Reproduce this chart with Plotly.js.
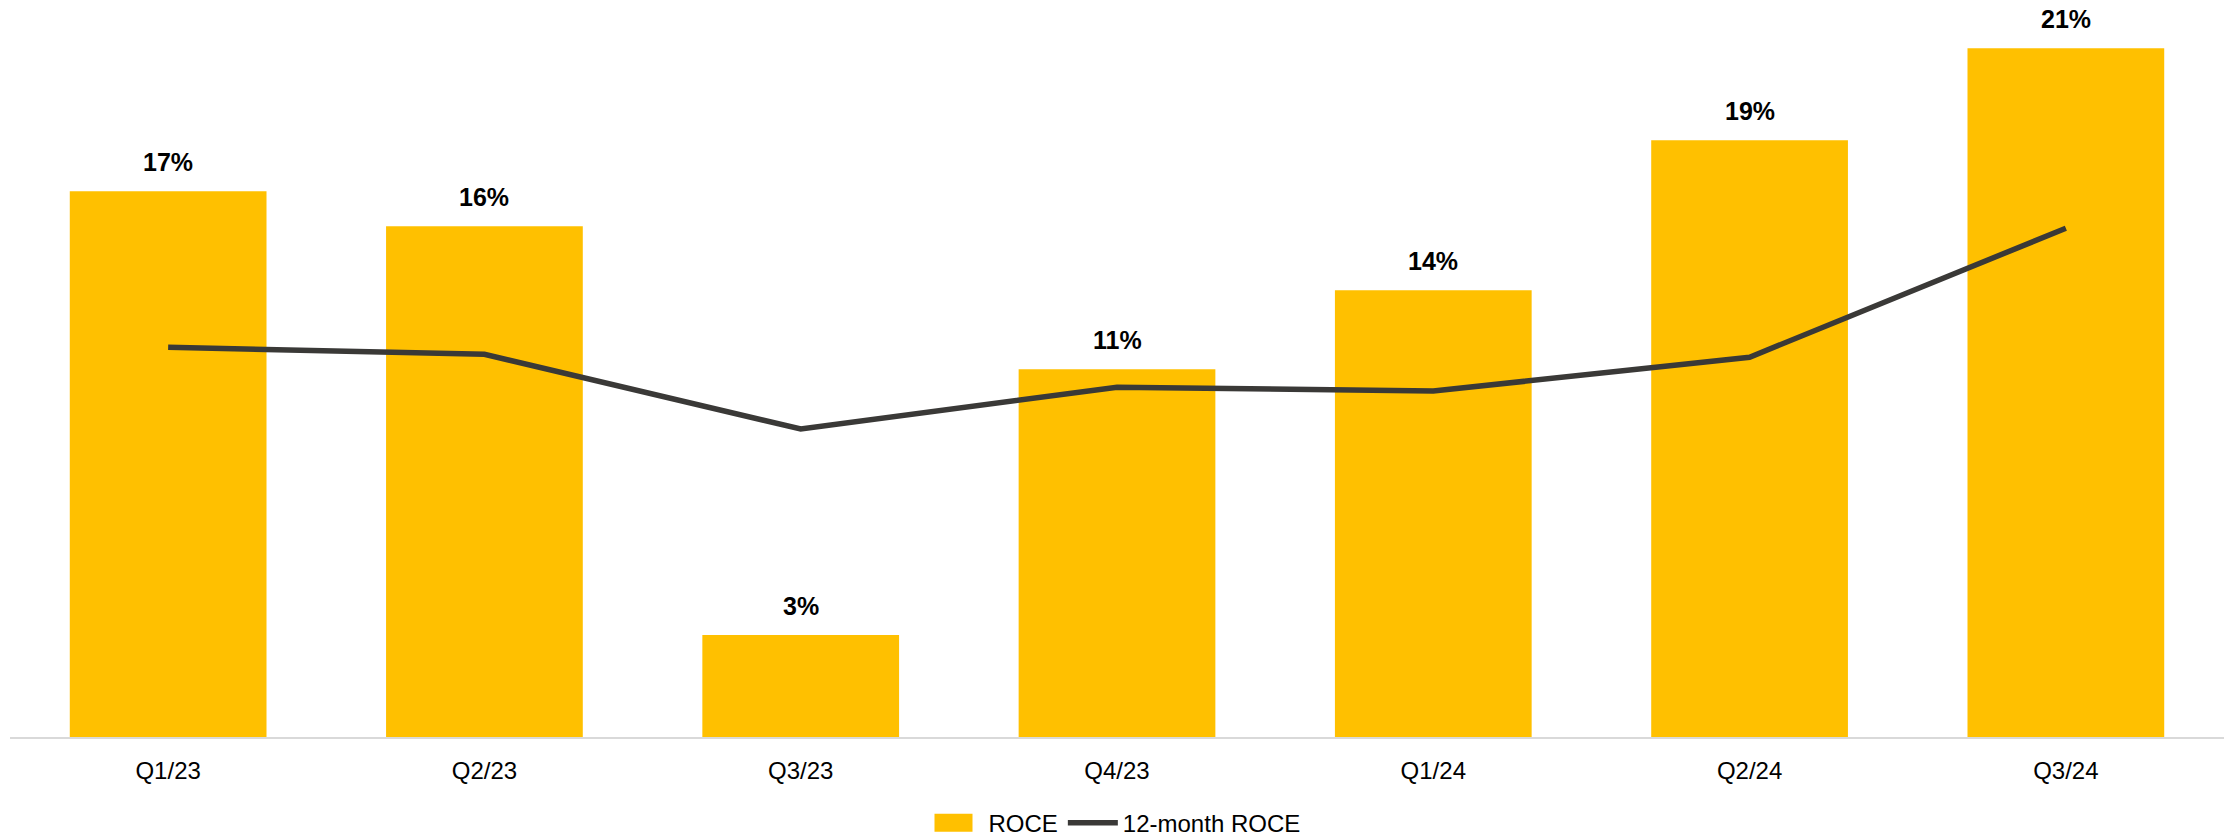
<!DOCTYPE html>
<html>
<head>
<meta charset="utf-8">
<script src="https://cdn.plot.ly/plotly-3.0.1.min.js"></script>
<style>html,body{margin:0;padding:0;background:#fff;}#chart{width:2234px;height:838px;}</style>
</head>
<body>
<div id="chart"></div>
<script>
const categories = ["Q1/23", "Q2/23", "Q3/23", "Q4/23", "Q1/24", "Q2/24", "Q3/24"];
const roce = [16.96, 15.87, 3.17, 11.43, 13.88, 18.54, 21.40];
const roce12m = [12.11, 11.89, 9.57, 10.87, 10.75, 11.80, 15.81];
const roceLabels = ["17%", "16%", "3%", "11%", "14%", "19%", "21%"];

const FONT = "'Liberation Sans', Arial, Helvetica, sans-serif";

const traces = [
  {
    type: "bar",
    name: "ROCE",
    x: categories,
    y: roce,
    marker: {color: "#FFC000"},
    hoverinfo: "skip"
  },
  {
    type: "scatter",
    mode: "lines",
    name: "12-month ROCE",
    x: categories,
    y: roce12m,
    line: {color: "#3A3937", width: 5.5},
    hoverinfo: "skip"
  }
];

const annotations = categories.map((c, i) => ({
  x: c, y: roce[i], xref: "x", yref: "y",
  text: roceLabels[i],
  showarrow: false,
  yanchor: "bottom",
  yshift: 13,
  font: {family: FONT, size: 25, color: "#000", weight: "bold"}
}));

const layout = {
  width: 2234,
  height: 838,
  margin: {l: 10, r: 10, t: 0, b: 101, autoexpand: false},
  paper_bgcolor: "#fff",
  plot_bgcolor: "#fff",
  bargap: 0.378,
  showlegend: true,
  legend: {
    orientation: "h",
    x: 0.5, xanchor: "center",
    y: -0.117, yanchor: "middle",
    font: {family: FONT, size: 24, color: "#000"},
    itemwidth: 50,
    traceorder: "normal"
  },
  xaxis: {
    type: "category",
    range: [-0.5, 6.5],
    showgrid: false,
    zeroline: false,
    showline: true,
    linecolor: "#D9D9D9",
    linewidth: 2,
    ticks: "",
    ticklabelstandoff: 11,
    tickfont: {family: FONT, size: 24, color: "#000"}
  },
  yaxis: {
    range: [0, 22.9],
    visible: false,
    showgrid: false,
    zeroline: false
  },
  annotations: annotations
};

Plotly.newPlot("chart", traces, layout, {displayModeBar: false, staticPlot: true}).then(gd => {
  // widen the bar legend swatch to a horizontal rectangle like the original
  const first = gd.querySelector(".legend .traces");
  if (first) {
    const p = first.querySelector(".legendpoints path");
    if (p) p.setAttribute("d", "M-24,-9H14V9H-24Z");
  }
});
</script>
</body>
</html>
